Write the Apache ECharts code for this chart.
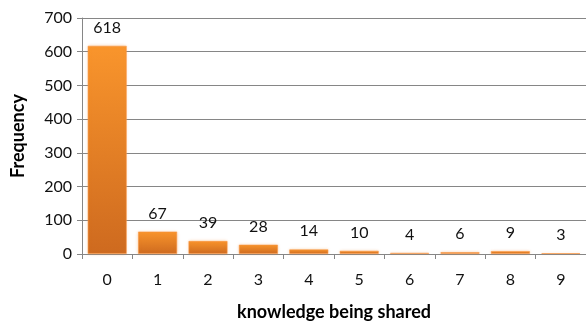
<!DOCTYPE html>
<html>
<head>
<meta charset="utf-8">
<script src="https://cdn.jsdelivr.net/npm/echarts@6/dist/echarts.min.js"></script>
<style>
  html, body { margin: 0; padding: 0; background: #fff; }
  #chart { width: 586px; height: 322px; }
</style>
</head>
<body>
<div id="chart"></div>
<script>
// Number of knowledge items shared, and how many respondents reported each
const categories = ['0', '1', '2', '3', '4', '5', '6', '7', '8', '9'];
const frequency = [618, 67, 39, 28, 14, 10, 4, 6, 9, 3];
const yTicks = { min: 0, max: 700, interval: 100 };

const FONT = 'Lato, "Open Sans", sans-serif';
const chart = echarts.init(document.getElementById('chart'));

chart.setOption({
  animation: false,
  grid: { left: 82, right: 0, top: 18, bottom: 68, containLabel: false, outerBoundsMode: 'none' },
  xAxis: {
    type: 'category',
    data: categories,
    name: 'knowledge being shared',
    nameLocation: 'middle',
    nameGap: 49,
    nameTextStyle: { fontFamily: FONT, fontSize: 18, fontWeight: 'bold', color: '#000' },
    axisLine: { lineStyle: { color: '#868686' } },
    axisTick: { show: true, length: 5, lineStyle: { color: '#868686' } },
    axisLabel: { fontFamily: FONT, fontSize: 16, color: '#111', margin: 18 }
  },
  yAxis: {
    type: 'value',
    min: yTicks.min,
    max: yTicks.max,
    interval: yTicks.interval,
    name: 'Frequency',
    nameLocation: 'middle',
    nameGap: 55,
    nameTextStyle: { fontFamily: FONT, fontSize: 18, fontWeight: 'bold', color: '#000' },
    axisLine: { show: true, lineStyle: { color: '#868686' } },
    axisTick: { show: true, length: 5, lineStyle: { color: '#868686' } },
    axisLabel: { fontFamily: FONT, fontSize: 16, color: '#111', margin: 10 },
    splitLine: { lineStyle: { color: '#868686' } }
  },
  series: [{
    type: 'bar',
    data: frequency,
    barCategoryGap: '22%',
    itemStyle: {
      color: new echarts.graphic.LinearGradient(0, 0, 0, 1, [
        { offset: 0, color: '#F9952C' },
        { offset: 1, color: '#CE6A1F' }
      ]),
      borderColor: 'rgba(247,150,70,0.55)',
      borderWidth: 1,
      shadowColor: 'rgba(240,140,50,0.35)',
      shadowBlur: 3
    },
    label: {
      show: true,
      position: 'top',
      distance: 10,
      fontFamily: FONT,
      fontSize: 16,
      color: '#111'
    }
  }]
});
</script>
</body>
</html>
